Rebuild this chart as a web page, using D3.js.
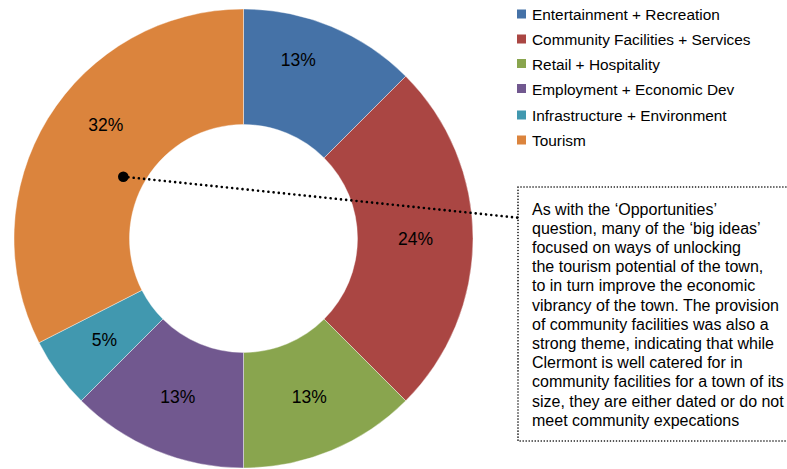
<!DOCTYPE html>
<html>
<head>
<meta charset="utf-8">
<script src="https://cdn.jsdelivr.net/npm/d3@7"></script>
<style>
  html, body { margin: 0; padding: 0; background: #fff; }
  svg { display: block; font-family: "Liberation Sans", Arial, sans-serif; }
</style>
</head>
<body>
<svg id="chart" width="787" height="469"></svg>
<script>
const categories = [
  "Entertainment + Recreation",
  "Community Facilities + Services",
  "Retail + Hospitality",
  "Employment + Economic Dev",
  "Infrastructure + Environment",
  "Tourism"
];
const values = [5, 10, 5, 5, 2, 13];
const percentLabels = ["13%", "24%", "13%", "13%", "5%", "32%"];
const colors = ["#4572A7", "#AA4643", "#89A54E", "#71588F", "#4198AF", "#DB843D"];
const noteLines = [
  "As with the \u2018Opportunities\u2019",
  "question, many of the \u2018big ideas\u2019",
  "focused on ways of unlocking",
  "the tourism potential of the town,",
  "to in turn improve the economic",
  "vibrancy of the town. The provision",
  "of community facilities was also a",
  "strong theme, indicating that while",
  "Clermont is well catered for in",
  "community facilities for a town of its",
  "size, they are either dated or do not",
  "meet community expecations"
];

const svg = d3.select("#chart");
const cx = 243.5, cy = 238.5, outerR = 229.5, innerR = 114;

const color = d3.scaleOrdinal().domain(categories).range(colors);
const pie = d3.pie().sort(null).value(d => d.value);
const data = categories.map((c, i) => ({ cat: c, value: values[i], label: percentLabels[i] }));
const arcs = pie(data);
const arc = d3.arc().innerRadius(innerR).outerRadius(outerR);
const labelArc = d3.arc().innerRadius(172).outerRadius(172);

const g = svg.append("g").attr("transform", `translate(${cx},${cy})`);
g.selectAll("path.slice").data(arcs).join("path")
  .attr("class", "slice")
  .attr("d", arc)
  .attr("fill", d => color(d.data.cat))
  .attr("stroke", "#ffffff")
  .attr("stroke-width", 0.4);

// label nudges (Excel moved a couple of labels)
const nudge = { "Entertainment + Recreation": [-11, -20], "Tourism": [9, -24] };
g.selectAll("text.pct").data(arcs).join("text")
  .attr("class", "pct")
  .attr("transform", d => {
    const [x, y] = labelArc.centroid(d);
    const n = nudge[d.data.cat] || [0, 0];
    return `translate(${x + n[0]},${y + n[1]})`;
  })
  .attr("text-anchor", "middle")
  .attr("dominant-baseline", "central")
  .attr("font-size", 17.5)
  .attr("fill", "#000")
  .text(d => d.data.label);

// Legend
const legend = svg.append("g").attr("transform", "translate(517,0)");
const legendY = [14, 39, 63.5, 88.5, 115, 140];
const li = legend.selectAll("g").data(categories).join("g")
  .attr("transform", (d, i) => `translate(0,${legendY[i]})`);
li.append("rect").attr("x", 0).attr("y", -4.5).attr("width", 9).attr("height", 9)
  .attr("fill", d => color(d));
li.append("text").attr("x", 15).attr("y", 0.5).attr("dominant-baseline", "central")
  .attr("font-size", 15.4).attr("fill", "#000").text(d => d);

// Annotation box
const boxX = 518, boxY = 187, boxW = 300, boxH = 254;
svg.append("rect").attr("x", boxX).attr("y", boxY).attr("width", boxW).attr("height", boxH)
  .attr("fill", "none").attr("stroke", "#000").attr("stroke-width", 1.6)
  .attr("stroke-dasharray", "0.01 3").attr("stroke-linecap", "round");

const nt = svg.append("text").attr("x", 532).attr("y", 209)
  .attr("font-size", 16).attr("fill", "#000");
nt.selectAll("tspan").data(noteLines).join("tspan")
  .attr("x", 532).attr("y", (d, i) => 209 + i * 19.2)
  .attr("dominant-baseline", "central")
  .text(d => d);

// Leader line
const dot = [123.3, 176.7];
const endX = boxX, endY = dot[1] + (boxX - dot[0]) * 0.104;
svg.append("line").attr("x1", dot[0]).attr("y1", dot[1]).attr("x2", endX).attr("y2", endY)
  .attr("stroke", "#000").attr("stroke-width", 2.6)
  .attr("stroke-dasharray", "0.01 5.2").attr("stroke-linecap", "round");
svg.append("circle").attr("cx", dot[0]).attr("cy", dot[1]).attr("r", 5.3).attr("fill", "#000");
</script>
</body>
</html>
